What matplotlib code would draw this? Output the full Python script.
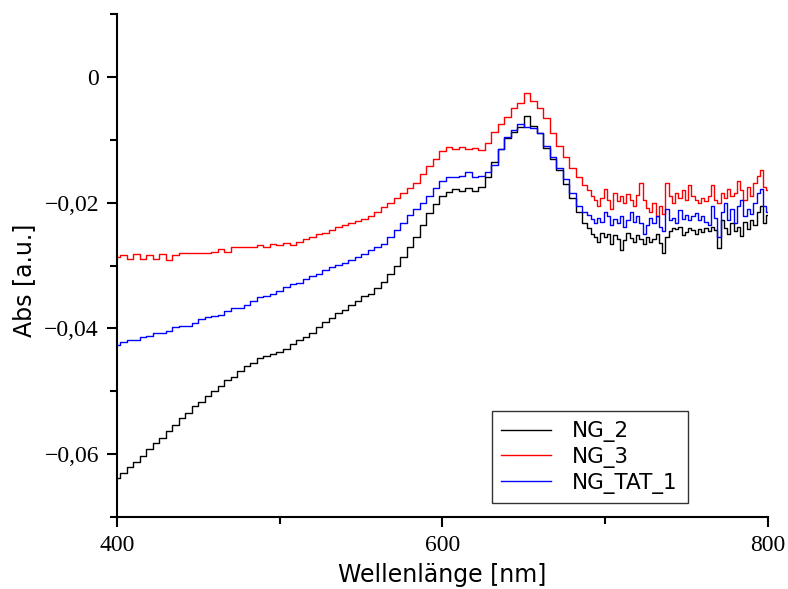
import numpy as np
import matplotlib
matplotlib.use("Agg")
import matplotlib.pyplot as plt
from matplotlib.ticker import MultipleLocator, FuncFormatter

# wavelength grid (nm): 4 nm up to 688, 2 nm in the noisy tail
wl_a = [400, 404, 408, 412, 416, 420, 424, 428, 432, 436,
        440, 444, 448, 452, 456, 460, 464, 468, 472, 476,
        480, 484, 488, 492, 496, 500, 504, 508, 512, 516,
        520, 524, 528, 532, 536, 540, 544, 548, 552, 556,
        560, 564, 568, 572, 576, 580, 584, 588, 592, 596,
        600, 604, 608, 612, 616, 620, 624, 628, 632, 636,
        640, 644, 648, 652, 656, 660, 664, 668, 672, 676,
        680, 684, 688]
wl_b = [690, 692, 694, 696, 698, 700, 702, 704, 706, 708,
        710, 712, 714, 716, 718, 720, 722, 724, 726, 728,
        730, 732, 734, 736, 738, 740, 742, 744, 746, 748,
        750, 752, 754, 756, 758, 760, 762, 764, 766, 768,
        770, 772, 774, 776, 778, 780, 782, 784, 786, 788,
        790, 792, 794, 796, 798, 800]

ng_2_a = [-0.0638, -0.0630, -0.0621, -0.0612, -0.0603, -0.0592, -0.0583, -0.0574, -0.0563, -0.0553,
          -0.0543, -0.0535, -0.0524, -0.0517, -0.0507, -0.0500, -0.0491, -0.0482, -0.0477, -0.0468,
          -0.0460, -0.0455, -0.0447, -0.0444, -0.0440, -0.0437, -0.0433, -0.0425, -0.0418, -0.0413,
          -0.0407, -0.0397, -0.0390, -0.0383, -0.0376, -0.0370, -0.0363, -0.0356, -0.0348, -0.0345,
          -0.0336, -0.0327, -0.0314, -0.0300, -0.0287, -0.0270, -0.0254, -0.0236, -0.0217, -0.0202,
          -0.0190, -0.0183, -0.0178, -0.0182, -0.0177, -0.0181, -0.0175, -0.0160, -0.0135, -0.0115,
          -0.0097, -0.0087, -0.0080, -0.0062, -0.0078, -0.0090, -0.0113, -0.0130, -0.0148, -0.0170,
          -0.0192, -0.0215, -0.0232]
ng_2_b = [-0.0240, -0.0250, -0.0255, -0.0262, -0.0248, -0.0255, -0.0250, -0.0265, -0.0252, -0.0258,
          -0.0275, -0.0260, -0.0248, -0.0256, -0.0263, -0.0252, -0.0258, -0.0266, -0.0254, -0.0262,
          -0.0258, -0.0250, -0.0264, -0.0280, -0.0255, -0.0245, -0.0240, -0.0242, -0.0238, -0.0252,
          -0.0246, -0.0240, -0.0244, -0.0250, -0.0242, -0.0246, -0.0240, -0.0245, -0.0238, -0.0243,
          -0.0272, -0.0228, -0.0240, -0.0250, -0.0232, -0.0245, -0.0238, -0.0253, -0.0230, -0.0242,
          -0.0228, -0.0236, -0.0215, -0.0205, -0.0232, -0.0220]

ng_3_a = [-0.0287, -0.0283, -0.0290, -0.0282, -0.0289, -0.0284, -0.0290, -0.0282, -0.0291, -0.0283,
          -0.0280, -0.0280, -0.0280, -0.0280, -0.0280, -0.0278, -0.0273, -0.0279, -0.0270, -0.0270,
          -0.0270, -0.0270, -0.0267, -0.0271, -0.0266, -0.0268, -0.0264, -0.0268, -0.0262, -0.0258,
          -0.0254, -0.0250, -0.0248, -0.0244, -0.0239, -0.0235, -0.0232, -0.0229, -0.0226, -0.0222,
          -0.0215, -0.0207, -0.0200, -0.0192, -0.0184, -0.0176, -0.0168, -0.0155, -0.0142, -0.0130,
          -0.0118, -0.0112, -0.0115, -0.0112, -0.0115, -0.0113, -0.0116, -0.0105, -0.0088, -0.0075,
          -0.0063, -0.0050, -0.0042, -0.0025, -0.0038, -0.0050, -0.0066, -0.0090, -0.0110, -0.0128,
          -0.0145, -0.0160, -0.0172]
ng_3_b = [-0.0180, -0.0190, -0.0196, -0.0205, -0.0192, -0.0178, -0.0195, -0.0210, -0.0184, -0.0198,
          -0.0190, -0.0200, -0.0186, -0.0195, -0.0205, -0.0188, -0.0168, -0.0195, -0.0208, -0.0215,
          -0.0200, -0.0222, -0.0205, -0.0218, -0.0168, -0.0190, -0.0200, -0.0185, -0.0192, -0.0180,
          -0.0195, -0.0172, -0.0190, -0.0195, -0.0200, -0.0192, -0.0197, -0.0190, -0.0172, -0.0195,
          -0.0200, -0.0185, -0.0192, -0.0178, -0.0190, -0.0185, -0.0165, -0.0180, -0.0195, -0.0175,
          -0.0190, -0.0168, -0.0158, -0.0148, -0.0175, -0.0180]

ng_tat_1_a = [-0.0427, -0.0422, -0.0418, -0.0418, -0.0413, -0.0412, -0.0408, -0.0408, -0.0404, -0.0397,
              -0.0396, -0.0396, -0.0392, -0.0385, -0.0382, -0.0380, -0.0378, -0.0372, -0.0368, -0.0368,
              -0.0362, -0.0357, -0.0350, -0.0348, -0.0345, -0.0340, -0.0334, -0.0330, -0.0328, -0.0322,
              -0.0316, -0.0313, -0.0307, -0.0302, -0.0299, -0.0296, -0.0291, -0.0286, -0.0282, -0.0276,
              -0.0271, -0.0265, -0.0255, -0.0243, -0.0232, -0.0220, -0.0210, -0.0200, -0.0190, -0.0176,
              -0.0165, -0.0160, -0.0160, -0.0158, -0.0152, -0.0160, -0.0158, -0.0152, -0.0140, -0.0115,
              -0.0095, -0.0085, -0.0075, -0.0079, -0.0082, -0.0090, -0.0110, -0.0128, -0.0145, -0.0163,
              -0.0185, -0.0205, -0.0215]
ng_tat_1_b = [-0.0220, -0.0226, -0.0232, -0.0225, -0.0230, -0.0215, -0.0222, -0.0236, -0.0226, -0.0232,
              -0.0222, -0.0238, -0.0228, -0.0215, -0.0230, -0.0222, -0.0232, -0.0250, -0.0235, -0.0225,
              -0.0232, -0.0222, -0.0238, -0.0245, -0.0210, -0.0228, -0.0225, -0.0232, -0.0212, -0.0226,
              -0.0220, -0.0228, -0.0222, -0.0216, -0.0228, -0.0222, -0.0230, -0.0235, -0.0205, -0.0225,
              -0.0255, -0.0215, -0.0200, -0.0228, -0.0210, -0.0232, -0.0205, -0.0195, -0.0222, -0.0210,
              -0.0218, -0.0200, -0.0185, -0.0178, -0.0205, -0.0215]

labels = ["NG_2", "NG_3", "NG_TAT_1"]
colors = ["black", "red", "blue"]

wavelength = wl_a + wl_b
series = [ng_2_a + ng_2_b, ng_3_a + ng_3_b, ng_tat_1_a + ng_tat_1_b]

fig = plt.figure(figsize=(7.88, 5.89), dpi=100)
ax = fig.add_axes([0.1485, 0.1222, 0.826, 0.854])

for y, lab, col in zip(series, labels, colors):
    ax.plot(wavelength, y, color=col, lw=1.0, drawstyle="steps-mid", label=lab)

ax.set_xlim(400, 800)
ax.set_ylim(-0.07, 0.01)

ax.spines["top"].set_visible(False)
ax.spines["right"].set_visible(False)
ax.spines["left"].set_linewidth(1.5)
ax.spines["bottom"].set_linewidth(1.5)

ax.xaxis.set_major_locator(MultipleLocator(200))
ax.xaxis.set_minor_locator(MultipleLocator(100))
ax.yaxis.set_major_locator(MultipleLocator(0.02))
ax.yaxis.set_minor_locator(MultipleLocator(0.01))


def comma_fmt(v, pos):
    if abs(v) < 1e-9:
        return "0"
    return ("%.2f" % v).replace(".", ",").replace("-", "\u2212")


ax.yaxis.set_major_formatter(FuncFormatter(comma_fmt))
ax.tick_params(which="major", direction="out", length=7, width=1.5,
               labelsize=17, pad=6)
ax.tick_params(which="minor", direction="out", length=5, width=1.5)
for t in ax.get_xticklabels() + ax.get_yticklabels():
    t.set_fontfamily("Liberation Serif")

ax.set_xlabel("Wellenlänge [nm]", fontsize=17, labelpad=5)
ax.set_ylabel("Abs [a.u.]", fontsize=17)
ax.yaxis.set_label_coords(-0.125, 0.47)

leg = ax.legend(loc="lower left", bbox_to_anchor=(0.559, 0.006), fontsize=15.5,
                frameon=True, fancybox=False, edgecolor="black",
                handlelength=2.3, handletextpad=1.0, borderpad=0.45,
                labelspacing=0.22)
leg.get_frame().set_linewidth(1.0)

fig.savefig("out.png", dpi=100)
